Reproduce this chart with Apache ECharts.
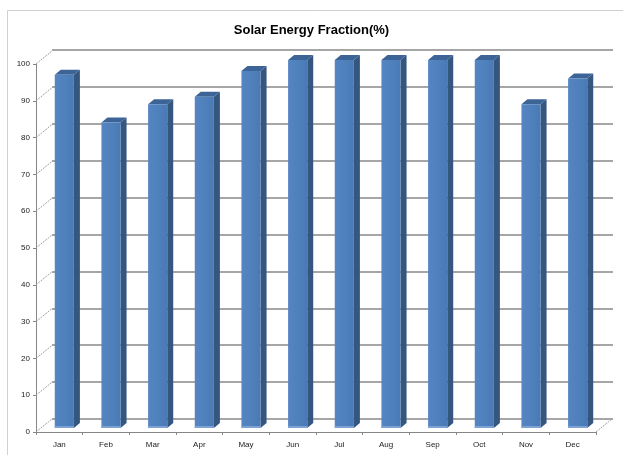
<!DOCTYPE html>
<html>
<head>
<meta charset="utf-8">
<script src="https://cdn.jsdelivr.net/npm/echarts@6/dist/echarts.min.js"></script>
<style>html,body{margin:0;padding:0;background:#fff}#c{width:623px;height:455px}</style>
</head>
<body>
<div id="c"></div>
<script>
var categories = ['Jan','Feb','Mar','Apr','May','Jun','Jul','Aug','Sep','Oct','Nov','Dec'];
var values = [96, 83, 88, 90, 97, 100, 100, 100, 100, 100, 88, 95];
var yTicks = [0, 10, 20, 30, 40, 50, 60, 70, 80, 90, 100];
var titleText = 'Solar Energy Fraction(%)';

var chart = echarts.init(document.getElementById('c'), null, {renderer: 'canvas'});
var DX = 16, DY = -13; // wall depth offset

function bar3d(params, api) {
  var idx = api.value(0), v = api.value(1);
  var base = api.coord([idx, 0]);
  var top = api.coord([idx, v]);
  var bw = api.size([1, 0])[0];
  var w = bw * 0.41;
  var ox = 5, oy = -4, sx = 6, sy = -5;
  var x0 = base[0] - w / 2 + ox, x1 = x0 + w;
  var yb = base[1] + oy, yt = top[1] + oy;
  return {
    type: 'group',
    children: [
      {type: 'polygon', shape: {points: [[x1, yb], [x1 + sx, yb + sy], [x1 + sx, yt + sy], [x1, yt]]},
        style: {fill: '#34567f'}},
      {type: 'polygon', shape: {points: [[x0, yt], [x1, yt], [x1 + sx, yt + sy], [x0 + sx, yt + sy]]},
        style: {fill: '#3c6496'}},
      {type: 'rect', shape: {x: x0, y: yt, width: w, height: yb - yt},
        style: {fill: new echarts.graphic.LinearGradient(0, 0, 1, 0, [
          {offset: 0, color: '#5585c2'}, {offset: 0.5, color: '#4f81bd'}, {offset: 1, color: '#4a7ab5'}])}},
      {type: 'rect', shape: {x: x0, y: yb - 2, width: w, height: 2}, style: {fill: '#7ea3d3'}}
    ]
  };
}

function tickDiag(params, api) {
  var v = api.value(0);
  var p = api.coord([0, v]);
  var bw = api.size([1, 0])[0];
  var x = p[0] - bw / 2;
  return {type: 'line', shape: {x1: x, y1: p[1], x2: x + DX, y2: p[1] + DY},
    style: {stroke: '#a0a0a0', lineWidth: 1, lineDash: [2, 1]}};
}

function floorDiag(params, api) {
  var p = api.coord([categories.length - 1, 0]);
  var bw = api.size([1, 0])[0];
  var x = p[0] + bw / 2;
  return {type: 'line', shape: {x1: x, y1: p[1], x2: x + DX, y2: p[1] + DY},
    style: {stroke: '#a0a0a0', lineWidth: 1, lineDash: [2, 1]}};
}

var narrow = "'Liberation Sans Narrow', 'Arial Narrow', 'Liberation Sans', Arial, sans-serif";

chart.setOption({
  animation: false,
  backgroundColor: '#fff',
  title: {text: titleText, left: 'center', top: 19,
    textStyle: {fontFamily: narrow, fontWeight: 'bold', fontSize: 13, color: '#000'}},
  graphic: [{type: 'rect', left: 5, top: 8, shape: {width: 640, height: 470},
    style: {fill: 'none', stroke: '#d0d0d0', lineWidth: 1}, z: -10}],
  grid: [
    {left: 36, right: 27, top: 64, bottom: 23},
    {left: 52, right: 10, top: 50, bottom: 36}
  ],
  xAxis: [
    {type: 'category', gridIndex: 0, data: categories, boundaryGap: true,
      axisLine: {lineStyle: {color: '#868686', width: 1}},
      axisTick: {show: true, length: 3, lineStyle: {color: '#868686'}},
      axisLabel: {fontSize: 8, color: '#222', margin: 9, fontFamily: narrow}},
    {type: 'category', gridIndex: 1, data: categories, show: false}
  ],
  yAxis: [
    {type: 'value', gridIndex: 0, min: 0, max: 100, interval: 10,
      axisLine: {show: true, lineStyle: {color: '#868686'}},
      axisTick: {show: true, length: 3, lineStyle: {color: '#868686'}},
      splitLine: {show: false},
      axisLabel: {fontSize: 8, color: '#222', margin: 6, fontFamily: narrow}},
    {type: 'value', gridIndex: 1, min: 0, max: 100, interval: 10,
      axisLine: {show: false}, axisTick: {show: false}, axisLabel: {show: false},
      splitLine: {show: true, lineStyle: {color: '#888888', width: 1.5}}}
  ],
  series: [
    {type: 'custom', xAxisIndex: 0, yAxisIndex: 0, renderItem: tickDiag,
      data: yTicks.map(function (t) { return [t]; }), encode: {y: 0}, silent: true, clip: false, z: 1},
    {type: 'custom', xAxisIndex: 0, yAxisIndex: 0, renderItem: floorDiag,
      data: [[0]], silent: true, clip: false, z: 1},
    {type: 'custom', xAxisIndex: 0, yAxisIndex: 0, renderItem: bar3d,
      data: values.map(function (v, i) { return [i, v]; }), encode: {x: 0, y: 1}, clip: false, z: 5}
  ]
});
</script>
</body>
</html>
